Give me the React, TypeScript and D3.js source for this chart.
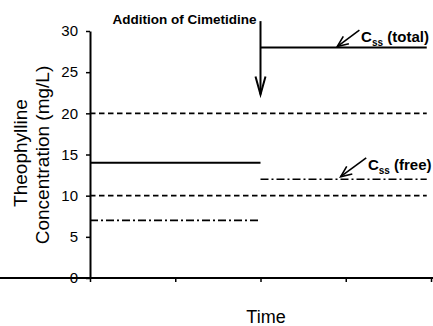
import { axisBottom, axisLeft, scaleLinear, select } from 'd3'
import { useEffect, useRef } from 'react'

// x is time in arbitrary units, cimetidine added at t = 2
const timeTicks = [0, 1, 2, 3, 4]
const concTicks = [0, 5, 10, 15, 20, 25, 30]

const segKind = ['total', 'total', 'free', 'free', 'range', 'range']
const segStart = [0, 2, 0, 2, 0, 0]
const segEnd = [2, 3.95, 2, 3.95, 3.95, 3.95]
const segConc = [14, 28, 7, 12, 20, 10]

const cimetidineTime = 2
const cimetidineConc = [31.2, 22.3]
const cimetidineLabel = 'Addition of Cimetidine'

const cssLabels = ['(total)', '(free)']
const cssLabelAt = [[3.18, 28.7], [3.26, 13.1]]
const cssArrowFrom = [[3.16, 30.1], [3.24, 14.6]]
const cssArrowTo = [[2.9, 28.1], [2.94, 12.3]]

const W = 433
const H = 326
const font = "'Liberation Sans', Arial, sans-serif"

const dashFor: Record<string, string | null> = {
  total: null,
  free: '8,3,2,3',
  range: '5.5,3.5',
}

export default function App() {
  const svgRef = useRef<SVGSVGElement | null>(null)

  useEffect(() => {
    if (!svgRef.current) return
    const svg = select(svgRef.current)
    svg.selectAll('*').remove()

    const x = scaleLinear().domain([0, 4]).range([90, 431])
    const y = scaleLinear().domain([0, 30]).range([278, 31])

    // axes
    const yAxis = svg.append('g')
      .attr('transform', `translate(${x(0)},0)`)
      .call(axisLeft(y).tickValues(concTicks).tickSize(4).tickSizeOuter(0).tickPadding(8))
    yAxis.select('.domain').attr('stroke-width', 2)
    yAxis.selectAll('.tick line').attr('stroke-width', 1.5)
    yAxis.selectAll('.tick text')
      .attr('font-family', font)
      .attr('font-size', 15)
      .attr('fill', '#000')

    const xAxis = svg.append('g')
      .attr('transform', `translate(0,${y(0)})`)
      .call(axisBottom(x).tickValues(timeTicks).tickSize(4).tickSizeOuter(0).tickFormat(() => ''))
    xAxis.select('.domain').attr('stroke-width', 2).attr('d', `M0,0H${W}`)
    xAxis.selectAll('.tick line').attr('stroke-width', 1.5)

    // concentration segments
    svg.append('g')
      .selectAll('line')
      .data(segKind.map((k, i) => ({ k, i })))
      .join('line')
      .attr('x1', d => x(segStart[d.i]))
      .attr('x2', d => x(segEnd[d.i]))
      .attr('y1', d => y(segConc[d.i]))
      .attr('y2', d => y(segConc[d.i]))
      .attr('stroke', '#000')
      .attr('stroke-width', d => d.k === 'total' ? 2 : 1.6)
      .attr('stroke-dasharray', d => dashFor[d.k])

    // cimetidine arrow
    const ax = x(cimetidineTime)
    const ay0 = y(cimetidineConc[0])
    const ay1 = y(cimetidineConc[1])
    svg.append('line')
      .attr('x1', ax).attr('x2', ax)
      .attr('y1', ay0).attr('y2', ay1)
      .attr('stroke', '#000').attr('stroke-width', 2)
    svg.append('path')
      .attr('d', `M${ax - 5},${ay1 - 18}L${ax},${ay1}L${ax + 5},${ay1 - 18}`)
      .attr('fill', 'none').attr('stroke', '#000').attr('stroke-width', 2)
    svg.append('text')
      .attr('x', ax - 4).attr('y', 24)
      .attr('text-anchor', 'end')
      .attr('font-family', font).attr('font-weight', 'bold').attr('font-size', 13.5)
      .text(cimetidineLabel)

    // Css labels with arrows
    cssLabels.forEach((lab, i) => {
      const x0 = x(cssArrowFrom[i][0]), y0 = y(cssArrowFrom[i][1])
      const x1 = x(cssArrowTo[i][0]), y1 = y(cssArrowTo[i][1])
      const ang = Math.atan2(y1 - y0, x1 - x0)
      const hl = 12, spread = 0.4
      const p1 = [x1 - hl * Math.cos(ang - spread), y1 - hl * Math.sin(ang - spread)]
      const p2 = [x1 - hl * Math.cos(ang + spread), y1 - hl * Math.sin(ang + spread)]
      svg.append('line')
        .attr('x1', x0).attr('y1', y0).attr('x2', x1).attr('y2', y1)
        .attr('stroke', '#000').attr('stroke-width', 1.6)
      svg.append('path')
        .attr('d', `M${p1[0]},${p1[1]}L${x1},${y1}L${p2[0]},${p2[1]}`)
        .attr('fill', 'none').attr('stroke', '#000').attr('stroke-width', 1.6)

      const t = svg.append('text')
        .attr('x', x(cssLabelAt[i][0])).attr('y', y(cssLabelAt[i][1]))
        .attr('font-family', font).attr('font-weight', 'bold').attr('font-size', 15)
      t.append('tspan').text('C')
      t.append('tspan').attr('font-size', 10).attr('dy', 4).text('ss')
      t.append('tspan').attr('dy', -4).text(' ' + lab)
    })

    // axis titles
    const ylab = ['Theophylline', 'Concentration (mg/L)']
    const ylabX = [27, 49]
    ylab.forEach((s, i) => {
      svg.append('text')
        .attr('transform', `translate(${ylabX[i]},${153 + i * 2}) rotate(-90)`)
        .attr('text-anchor', 'middle')
        .attr('font-family', font).attr('font-size', 19)
        .text(s)
    })
    svg.append('text')
      .attr('x', 266).attr('y', 323)
      .attr('text-anchor', 'middle')
      .attr('font-family', font).attr('font-size', 18)
      .text('Time')
  }, [])

  return (
    <svg
      ref={svgRef}
      width={W}
      height={H}
      style={{ position: 'absolute', left: 0, top: 0, background: '#fff' }}
    />
  )
}
